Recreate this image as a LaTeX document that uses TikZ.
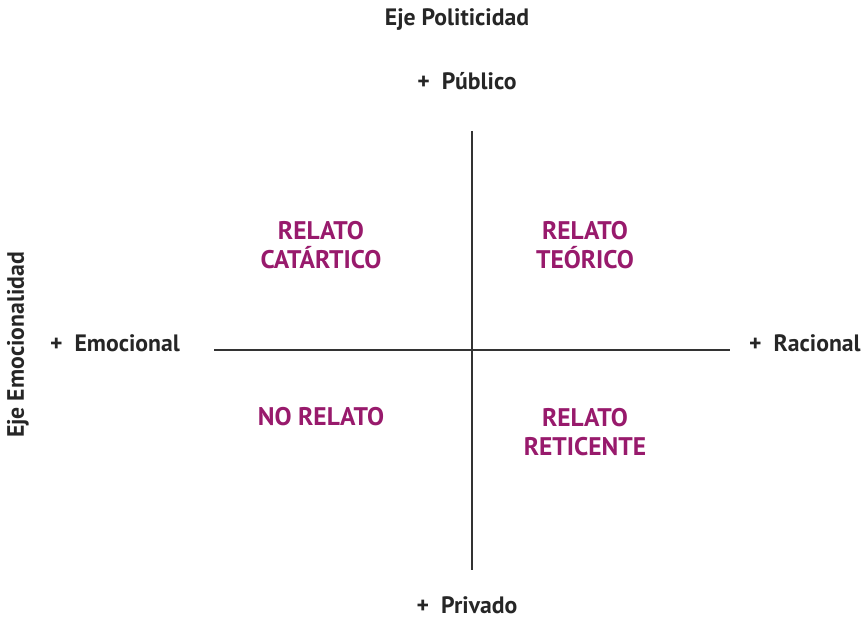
\documentclass[tikz,border=0pt]{standalone}
\usepackage{fontspec}
\setmainfont{PT Sans}
\usetikzlibrary{calc}
\definecolor{relato}{RGB}{152,26,108}

\begin{document}
\begin{tikzpicture}[x=0.02cm,y=-0.02cm,
  eje/.style={font=\bfseries\fontsize{13.5}{16}\selectfont, text=black!85, inner sep=1pt},
  cuadrante/.style={font=\bfseries\fontsize{14.5}{16.5}\selectfont, text=relato, align=center}]
  \useasboundingbox (0,0) rectangle (866,618);

  % axes
  \coordinate (top) at (472,131);
  \coordinate (bottom) at (472,570);
  \coordinate (left) at (214,350);
  \coordinate (right) at (730,350);
  \draw[line width=0.85pt, black!80] (top) -- (bottom);
  \draw[line width=0.85pt, black!80] (left) -- (right);

  % axis titles
  \node[eje] (politicidad) at (457,20) {Eje Politicidad};
  \node[eje, rotate=90] (emocionalidad) at (18,345) {Eje Emocionalidad};

  % poles
  \node[eje] (publico) at (467,81) {+\ \ Público};
  \node[eje] (privado) at (467,605) {+\ \ Privado};
  \node[eje, anchor=west] (emocional) at (48,343) {+\ \ Emocional};
  \node[eje, anchor=west] (racional) at (747,343) {+\ \ Racional};

  % quadrants
  \node[cuadrante] (catartico) at (321,245) {RELATO\\CATÁRTICO};
  \node[cuadrante] (teorico) at (585,245) {RELATO\\TEÓRICO};
  \node[cuadrante] (norelato) at (321,417) {NO RELATO};
  \node[cuadrante] (reticente) at (585,432) {RELATO\\RETICENTE};
\end{tikzpicture}
\end{document}
